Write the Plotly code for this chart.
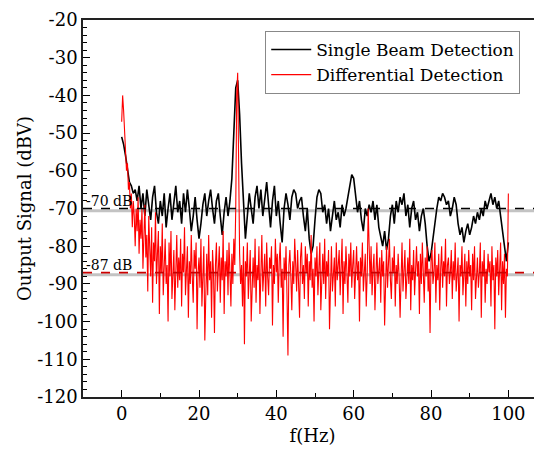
import plotly.graph_objects as go

# Single beam detection, 0.5 Hz steps from 0 to 100 Hz
single_freq_step = 0.5
single_beam = [
    -51, -53, -56, -60, -63, -64, -66, -65, -68, -64,
    -70, -66, -72, -65, -69, -73, -67, -64, -71, -74,
    -68, -72, -66, -75, -70, -66, -73, -69, -64, -71,
    -68, -74, -66, -71, -65, -70, -76, -72, -67, -73,
    -78, -74, -69, -66, -72, -68, -65, -70, -74, -68,
    -66, -72, -77, -71, -67, -72, -68, -62, -50, -38,
    -36, -45, -58, -68, -78, -72, -66, -70, -74, -67,
    -64, -70, -65, -72, -68, -63, -69, -75, -68, -64,
    -72, -68, -74, -79, -70, -66, -69, -73, -67, -65,
    -66, -70, -68, -67, -72, -76, -70, -78, -82, -80,
    -73, -67, -65, -66, -71, -69, -74, -70, -76, -72,
    -68, -73, -71, -75, -69, -72, -70, -67, -64, -61,
    -62, -67, -71, -68, -73, -76, -70, -72, -69, -71,
    -68, -73, -69, -75, -78, -80, -76, -81, -78, -72,
    -69, -74, -68, -71, -67, -69, -66, -72, -69, -75,
    -70, -68, -73, -71, -76, -72, -70, -74, -80, -84,
    -82, -78, -73, -70, -67, -68, -66, -67, -69, -68,
    -72, -70, -67, -69, -74, -77, -75, -79, -76, -74,
    -77, -75, -72, -74, -71, -73, -70, -72, -68, -70,
    -68, -66, -69, -67, -70, -68, -72, -76, -79, -84,
    -79,
]

# Differential detection, 0.25 Hz steps from 0 to 100 Hz
diff_freq_step = 0.25
differential = [
    -47, -40, -44, -50, -56, -60, -58, -65, -63, -70, -66, -75, -68, -72, -80, -70, -76, -67, -82, -73,
    -78, -70, -86, -74, -69, -83, -77, -92, -72, -80, -88, -75, -95, -79, -84, -71, -90, -82, -76, -98,
    -80, -87, -74, -93, -83, -78, -90, -85, -100, -79, -88, -76, -94, -84, -81, -97, -86, -77, -91, -83,
    -89, -78, -96, -82, -87, -75, -93, -85, -80, -99, -84, -90, -77, -88, -95, -81, -86, -79, -102, -87,
    -83, -91, -78, -96, -85, -80, -105, -88, -82, -93, -77, -89, -84, -99, -81, -87, -103, -85, -79, -92,
    -86, -80, -95, -83, -89, -76, -98, -84, -88, -81, -93, -79, -87, -96, -82, -90, -78, -85, -70, -40,
    -34, -62, -82, -90, -85, -96, -80, -106, -84, -88, -79, -94, -86, -81, -100, -87, -83, -91, -78, -95,
    -85, -89, -80, -98, -84, -77, -92, -87, -82, -96, -79, -88, -93, -83, -86, -80, -101, -85, -90, -78,
    -87, -82, -95, -84, -79, -91, -86, -104, -83, -89, -80, -93, -109, -85, -81, -88, -97, -84, -90, -78,
    -86, -92, -81, -88, -99, -83, -79, -90, -85, -94, -80, -87, -82, -96, -84, -89, -77, -91, -86, -100,
    -83, -88, -80, -93, -85, -79, -97, -86, -82, -90, -78, -94, -84, -88, -81, -102, -85, -80, -92, -87,
    -83, -96, -79, -89, -85, -81, -93, -86, -78, -98, -84, -90, -80, -87, -95, -82, -88, -79, -91, -85,
    -81, -94, -86, -80, -89, -84, -100, -83, -88, -79, -92, -85, -82, -96, -87, -70, -84, -90, -80, -93,
    -86, -82, -97, -85, -79, -90, -87, -83, -95, -81, -88, -84, -101, -86, -80, -91, -85, -78, -89, -94,
    -83, -87, -80, -96, -85, -90, -82, -88, -99, -84, -79, -92, -86, -81, -94, -87, -83, -90, -78, -97,
    -85, -89, -81, -93, -86, -80, -88, -84, -98, -82, -90, -79, -87, -95, -83, -88, -80, -92, -86, -103,
    -84, -81, -90, -87, -79, -95, -85, -89, -82, -97, -86, -80, -91, -84, -88, -78, -96, -85, -83, -90,
    -87, -81, -94, -84, -89, -79, -92, -86, -83, -100, -85, -88, -80, -93, -87, -82, -96, -84, -90, -81,
    -88, -85, -97, -82, -89, -80, -94, -86, -83, -91, -87, -79, -99, -84, -88, -81, -95, -86, -90, -82,
    -87, -84, -96, -80, -89, -85, -102, -83, -88, -81, -93, -86, -79, -97, -84, -90, -82, -99, -86, -88,
    -66,
]

ref_levels = [-70, -87]
ref_labels = ["-70 dB", "-87 dB"]
ref_colors = ["black", "#cc0000"]

x_range = [-10, 108.7]
y_range = [-120, -20]
x_ticks = [0, 20, 40, 60, 80, 100]
y_ticks = [-120, -110, -100, -90, -80, -70, -60, -50, -40, -30, -20]
y_ticktext = ["-120", "-110", "-100", "-90", "-80", "-70", "-60", "-50", "-40", "-30", "-20"]

single_f = [i * single_freq_step for i in range(len(single_beam))]
diff_f = [i * diff_freq_step for i in range(len(differential))]

FONT = "DejaVu Serif"

fig = go.Figure()

# gray shadows of reference lines
for lvl in ref_levels:
    fig.add_trace(go.Scatter(x=x_range, y=[lvl - 0.6, lvl - 0.6], mode="lines",
                             line=dict(color="rgba(170,170,170,0.7)", width=3),
                             showlegend=False, hoverinfo="skip"))

fig.add_trace(go.Scatter(x=single_f, y=single_beam, mode="lines",
                         name="Single Beam Detection",
                         line=dict(color="black", width=1.6)))
fig.add_trace(go.Scatter(x=diff_f, y=differential, mode="lines",
                         name="Differential Detection",
                         line=dict(color="#ff0000", width=1.1)))

for lvl, col in zip(ref_levels, ref_colors):
    fig.add_trace(go.Scatter(x=x_range, y=[lvl, lvl], mode="lines",
                             line=dict(color=col, width=1.6, dash="dash"),
                             showlegend=False, hoverinfo="skip"))

for lvl, lab in zip(ref_levels, ref_labels):
    fig.add_annotation(x=-9.7, y=lvl, text=lab, showarrow=False,
                       xanchor="left", yanchor="bottom", yshift=-2,
                       font=dict(family=FONT, size=14, color="black"))

# page body has an 8px margin: figure is sized/offset to land on the 542x452 frame
fig.update_layout(
    width=534, height=444,
    margin=dict(l=75, r=0, t=12, b=55),
    paper_bgcolor="white", plot_bgcolor="white",
    font=dict(family=FONT, color="black"),
    showlegend=True,
    legend=dict(x=0.397, y=0.971, xanchor="left", yanchor="top",
                bgcolor="white", bordercolor="#888888", borderwidth=1,
                font=dict(family=FONT, size=17, color="black"),
                tracegroupgap=0, itemwidth=40),
    xaxis=dict(range=x_range, tickvals=x_ticks, ticks="inside", ticklen=7,
               tickwidth=1.3, tickcolor="black", automargin=False,
               minor=dict(dtick=10, tick0=0, ticks="inside", ticklen=4, tickcolor="black", tickwidth=1.2),
               showline=True, linecolor="#222222", linewidth=1.6, mirror=True,
               showgrid=False, zeroline=False,
               tickfont=dict(family=FONT, size=18, color="black"),
               title=dict(text="f(Hz)", font=dict(family=FONT, size=18, color="black"), standoff=6)),
    yaxis=dict(range=y_range, tickvals=y_ticks, ticktext=y_ticktext, ticks="inside", ticklen=7,
               tickwidth=1.3, tickcolor="black", automargin=False,
               minor=dict(dtick=2, tick0=0, ticks="inside", ticklen=4, tickcolor="black", tickwidth=1.2),
               showline=True, linecolor="#222222", linewidth=1.6,
               showgrid=False, zeroline=False,
               tickfont=dict(family=FONT, size=18, color="black"),
               title=dict(text="Output Signal (dBV)", font=dict(family=FONT, size=18, color="black"), standoff=1)),
)

fig.write_html("out.html")
